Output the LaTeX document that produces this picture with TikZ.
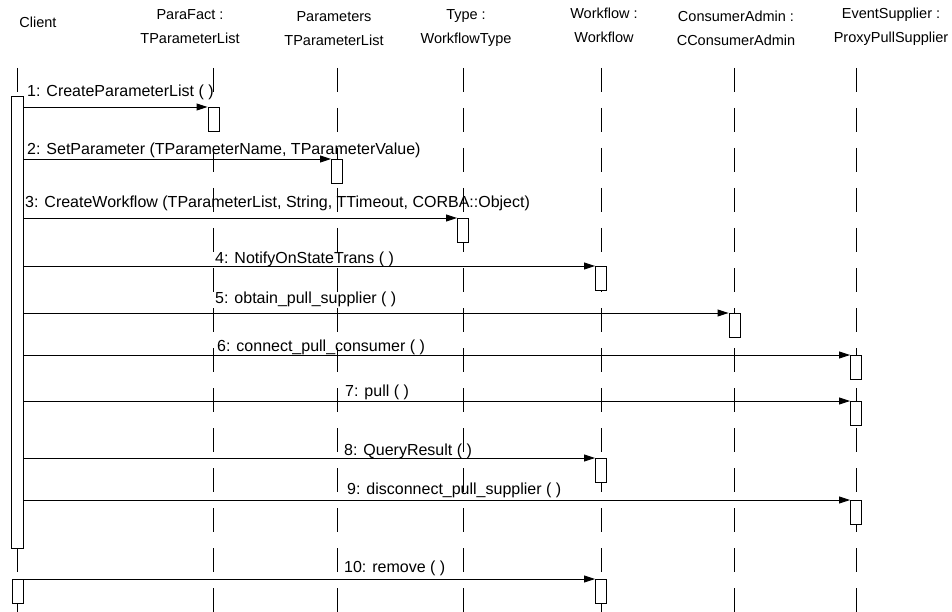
\documentclass[tikz,border=0pt]{standalone}
\usepackage{fontspec}
\setmainfont{Liberation Sans}
\usepackage{tikz}
\usetikzlibrary{arrows.meta,positioning}
\newcommand{\headfont}{\fontsize{14.5}{24}\selectfont}
\newcommand{\msgfont}{\fontsize{16}{19}\selectfont}
\tikzset{
  lifeline/.style={
    line width=0.8pt,
    dash pattern=on 24pt off 16pt
  },
  actbox/.style={
    rectangle,
    draw,
    fill=white,
    line width=0.9pt,
    minimum width=11pt,
    minimum height=24pt,
    inner sep=0pt,
    anchor=north
  },
  msgarrow/.style={
    -{Triangle[length=11pt,width=7pt]},
    line width=0.9pt
  },
  msglabel/.style={
    anchor=base west,
    inner sep=0pt,
    font=\msgfont
  },
  headlabel/.style={
    anchor=north,
    align=center,
    inner sep=0pt,
    font=\headfont
  }
}

\begin{document}
\begin{tikzpicture}[x=1pt, y=-1pt]
\useasboundingbox (0,0) rectangle (952,612);

% object headers
\node[headlabel] (hcl) at (38,17) {Client};
\node[headlabel] (hpf) at (190,9) {ParaFact :\\TParameterList};
\node[headlabel] (hpa) at (334,11) {Parameters\\TParameterList};
\node[headlabel] (hty) at (466,9) {Type :\\WorkflowType};
\node[headlabel] (hwf) at (604,8) {Workflow :\\Workflow};
\node[headlabel] (hca) at (736,11) {ConsumerAdmin :\\CConsumerAdmin};
\node[headlabel] (hes) at (891,8) {EventSupplier :\\ProxyPullSupplier};

% lifelines
\foreach \nm/\xx in {cl/17, pf/213, pa/337, ty/463, wf/601, ca/734, es/856} {
  \coordinate (\nm top) at (\xx,68);
  \coordinate (\nm bot) at (\xx,612);
  \draw[lifeline] (\nm top) -- (\nm bot);
}

% activations
\node[actbox, minimum width=12pt, minimum height=452pt] (cbar) at (17,96) {};
\node[actbox] (cend) at (17.5,579) {};
\node[actbox] (b1) at (213.5,107) {};
\node[actbox] (b2) at (337,159) {};
\node[actbox] (b3) at (463,218) {};
\node[actbox] (b4) at (601,266) {};
\node[actbox] (b5) at (734.5,313) {};
\node[actbox] (b6) at (856,355) {};
\node[actbox] (b7) at (856,401) {};
\node[actbox] (b8) at (601,458) {};
\node[actbox] (b9) at (856,500) {};
\node[actbox] (b10) at (601,579) {};

% messages
\draw[msgarrow] (cbar.east |- b1.north west) -- (b1.north west);
\draw[msgarrow] (cbar.east |- b2.north west) -- (b2.north west);
\draw[msgarrow] (cbar.east |- b3.north west) -- (b3.north west);
\draw[msgarrow] (cbar.east |- b4.north west) -- (b4.north west);
\draw[msgarrow] (cbar.east |- b5.north west) -- (b5.north west);
\draw[msgarrow] (cbar.east |- b6.north west) -- (b6.north west);
\draw[msgarrow] (cbar.east |- b7.north west) -- (b7.north west);
\draw[msgarrow] (cbar.east |- b8.north west) -- (b8.north west);
\draw[msgarrow] (cbar.east |- b9.north west) -- (b9.north west);
\draw[msgarrow] (cend.north east) -- (b10.north west);

% message labels
\node[msglabel] (m1) at (27,97) {1: CreateParameterList ( )};
\node[msglabel] (m2) at (27,155) {2: SetParameter (TParameterName, TParameterValue)};
\node[msglabel] (m3) at (25,208) {3: CreateWorkflow (TParameterList, String, TTimeout, CORBA::Object)};
\node[msglabel] (m4) at (215,263) {4: NotifyOnStateTrans ( )};
\node[msglabel] (m5) at (215,303) {5: obtain\_pull\_supplier ( )};
\node[msglabel] (m6) at (217,351) {6: connect\_pull\_consumer ( )};
\node[msglabel] (m7) at (345,396) {7: pull ( )};
\node[msglabel] (m8) at (344,455) {8: QueryResult ( )};
\node[msglabel] (m9) at (347,494) {9: disconnect\_pull\_supplier ( )};
\node[msglabel] (m10) at (344,572) {10: remove ( )};
\end{tikzpicture}
\end{document}
